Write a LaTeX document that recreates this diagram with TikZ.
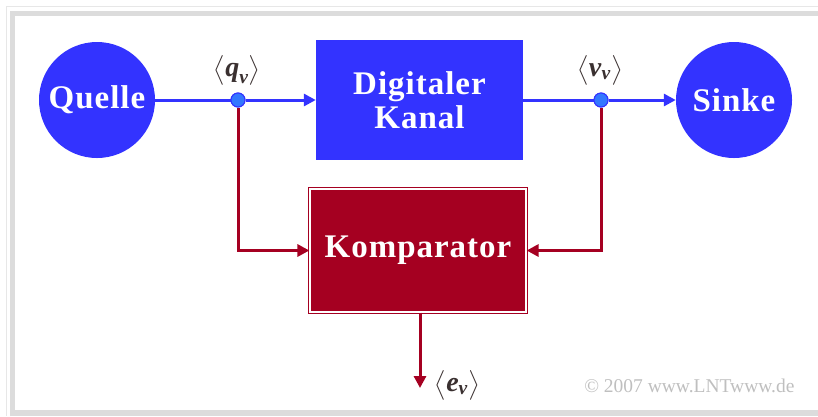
\documentclass[tikz,border=0pt]{standalone}
\usepackage{amsmath}
\usepackage{fontspec}
\setmainfont{Liberation Serif}
\newfontfamily\bigfont[LetterSpace=3]{Liberation Serif}
\usetikzlibrary{arrows.meta}
\definecolor{kblue}{HTML}{3333FF}
\definecolor{kdot}{HTML}{3377FF}
\definecolor{kred}{HTML}{A50021}
\definecolor{klab}{HTML}{3A3030}
\definecolor{kframe}{HTML}{DCDCDC}
\begin{document}
\begin{tikzpicture}[x=1pt,y=-1pt,
  bigtxt/.style={text=white,font=\bigfont\fontsize{33}{35}\selectfont\bfseries},
  circ/.style={circle,fill=kblue,minimum size=116pt,inner sep=0pt,bigtxt},
  bluebox/.style={rectangle,fill=kblue,minimum width=207pt,minimum height=120pt,inner sep=0pt,bigtxt,align=center},
  redbox/.style={rectangle,fill=kred,draw=kred,double=white,double distance=1.2pt,line width=1.2pt,minimum width=216pt,minimum height=123pt,inner sep=0pt,bigtxt},
  dot/.style={circle,fill=kdot,draw=kblue,line width=1pt,minimum size=14pt,inner sep=0pt},
  bline/.style={kblue,line width=3pt,-{Triangle[length=12pt,width=12pt]}},
  rline/.style={kred,line width=3pt,-{Triangle[length=12pt,width=12pt]}},
  lab/.style={text=klab,font=\fontsize{28}{30}\selectfont},
]
\useasboundingbox (0,0) rectangle (818,416);
% frame
\draw[kframe!70,line width=1pt] (6.5,416) -- (6.5,6.5) -- (818,6.5);
\draw[kframe,line width=5pt] (12.5,416) -- (12.5,13.5) -- (818,13.5);
\draw[kframe,line width=6pt] (12.5,413) -- (818,413);
% nodes
\node[circ] (quelle) at (97,100) {Quelle};
\node[circ] (sinke) at (734,100) {Sinke};
\node[bluebox] (kanal) at (419.5,100) {Digitaler\\[-1pt]Kanal};
\node[redbox] (komp) at (418,250.5) {Komparator};
\node[dot] (qd) at (238,100) {};
\node[dot] (vd) at (601,100) {};
\coordinate (eend) at (420,388);
% connectors
\draw[kblue,line width=3pt] (quelle) -- (qd);
\draw[bline] (qd) -- (kanal.west);
\draw[kblue,line width=3pt] (kanal.east) -- (vd);
\draw[bline] (vd) -- (sinke.west);
\draw[rline] (qd) |- (komp.west);
\draw[rline] (vd) |- (komp.east);
\draw[rline] (komp.south -| eend) -- (eend);
\node[dot] at (qd) {};
\node[dot] at (vd) {};
% labels
\node[lab] (lq) at (237,70) {$\bigl\langle\textbf{\textit{q}}_{\textbf{\textit{v}}}\bigr\rangle$};
\node[lab] (lv) at (600,70) {$\bigl\langle\textbf{\textit{v}}_{\textbf{\textit{v}}}\bigr\rangle$};
\node[lab,anchor=west] (le) at (431,385) {$\bigl\langle\textbf{\textit{e}}_{\textbf{\textit{v}}}\bigr\rangle$};
\node[text=black!25,font=\fontsize{19.5}{20}\selectfont,anchor=east] (copy) at (798,386) {© 2007 www.LNTwww.de};
\end{tikzpicture}
\end{document}
